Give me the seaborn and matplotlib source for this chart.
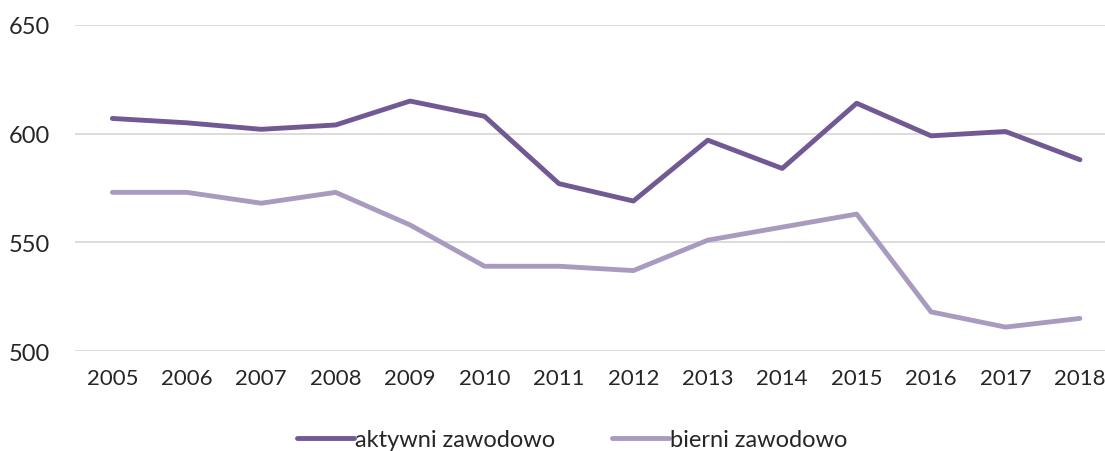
import matplotlib
matplotlib.use("Agg")
import matplotlib.pyplot as plt
import seaborn as sns
import pandas as pd

years = [str(y) for y in range(2005, 2019)]
aktywni = [607, 605, 602, 604, 615, 608, 577, 569, 597, 584, 614, 599, 601, 588]
bierni = [573, 573, 568, 573, 558, 539, 539, 537, 551, 557, 563, 518, 511, 515]
series_names = ["aktywni zawodowo", "bierni zawodowo"]
colors = ["#715a93", "#a99bc0"]

df = pd.DataFrame({
    "rok": years * 2,
    "wartosc": aktywni + bierni,
    "grupa": [series_names[0]] * len(years) + [series_names[1]] * len(years),
})

sns.set_style("white")
plt.rcParams["font.family"] = ["Lato", "DejaVu Sans"]
fs = 17

fig = plt.figure(figsize=(11.05, 4.52), dpi=100)
ax = fig.add_axes([0.068, 0.2212, 0.943, 0.7213])

sns.lineplot(data=df, x="rok", y="wartosc", hue="grupa", palette=colors,
             linewidth=3.5, ax=ax, sort=False, legend=True,
             solid_capstyle="round")

ax.set_ylim(500, 650)
ax.set_yticks([500, 550, 600, 650])
ax.set_xlim(-0.5, 13.5)
ax.set_xlabel("")
ax.set_ylabel("")
ax.yaxis.grid(True, color="#d9d9d9", linewidth=1.3)
ax.set_axisbelow(True)
for s in ax.spines.values():
    s.set_visible(False)
ax.tick_params(axis="y", length=0, pad=18, labelsize=fs)
ax.tick_params(axis="x", length=0, pad=12, labelsize=16)

handles, labels = ax.get_legend_handles_labels()
ax.get_legend().remove()
fig.legend(handles, labels, loc="center", bbox_to_anchor=(0.518, 0.025),
           ncol=2, frameon=False, fontsize=fs, handlelength=2.4,
           handletextpad=0.05, columnspacing=2.4)

fig.savefig("out.png", dpi=100)
